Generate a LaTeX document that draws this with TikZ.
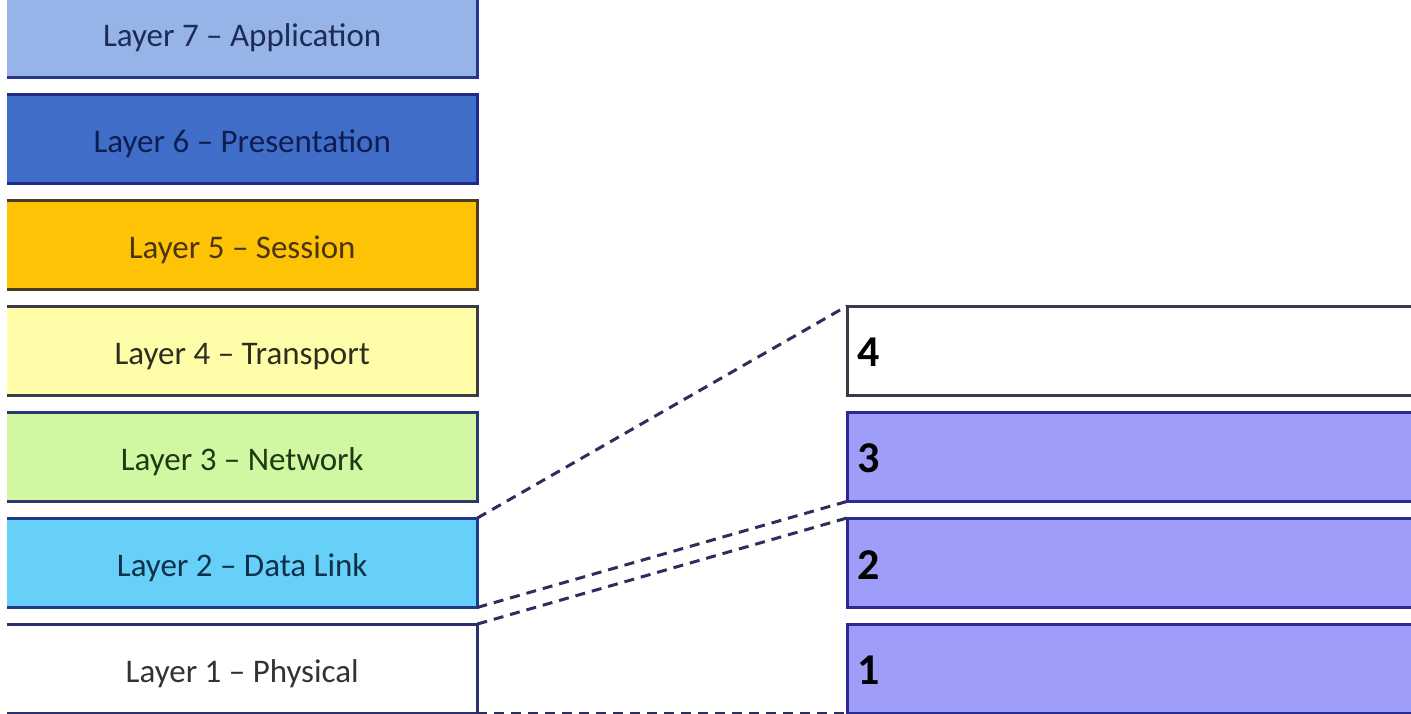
\documentclass[tikz,border=0pt]{standalone}
\usepackage{fontspec}
\setmainfont{Carlito}
\definecolor{lsevF}{HTML}{96B4E8}\definecolor{lsevB}{HTML}{2A3590}\definecolor{lsevT}{HTML}{1E2B55}
\definecolor{lsixF}{HTML}{3F6DC8}\definecolor{lsixB}{HTML}{1F2A8A}\definecolor{lsixT}{HTML}{0F1E50}
\definecolor{lfivF}{HTML}{FFC305}\definecolor{lfivB}{HTML}{4B3C25}\definecolor{lfivT}{HTML}{4A3510}
\definecolor{lfouF}{HTML}{FFFDA8}\definecolor{lfouB}{HTML}{3C3C48}\definecolor{lfouT}{HTML}{2E2E20}
\definecolor{lthrF}{HTML}{D2F7A2}\definecolor{lthrB}{HTML}{2A3A70}\definecolor{lthrT}{HTML}{1E3A12}
\definecolor{ltwoF}{HTML}{66D0F8}\definecolor{ltwoB}{HTML}{1E3A8A}\definecolor{ltwoT}{HTML}{0E3048}
\definecolor{loneF}{HTML}{FFFFFF}\definecolor{loneB}{HTML}{2A3070}\definecolor{loneT}{HTML}{333333}
\definecolor{rF}{HTML}{9E9EF8}\definecolor{rB}{HTML}{2A2A90}\definecolor{rfourB}{HTML}{3A3A4A}
\definecolor{connC}{HTML}{2E2E5E}
\begin{document}
\begin{tikzpicture}[x=1pt,y=-1pt,
  layerbox/.style={minimum width=470pt,minimum height=89pt,inner sep=0pt,anchor=north west,
    text height=27pt,text depth=0pt,font=\fontsize{33}{38}\selectfont},
  numbox/.style={minimum width=620pt,minimum height=89pt,inner sep=0pt,anchor=north west},
  numtext/.style={anchor=west,inner sep=0pt,font=\fontsize{44}{50}\selectfont\bfseries},
  bd/.style={draw=#1,line width=3pt},
  conn/.style={draw=connC,line width=3pt,dash pattern=on 10pt off 7pt}]
\useasboundingbox (0,0) rectangle (1411,713);
\fill[white] (0,0) rectangle (1411,713);
\clip (0,0) rectangle (1411,713);
% left stack
\node[layerbox,fill=lsevF,text=lsevT] (L7) at (7,-12) {Layer 7 \textendash{} Application};
\node[layerbox,fill=lsixF,text=lsixT] (L6) at (7,94) {Layer 6 \textendash{} Presentation};
\node[layerbox,fill=lfivF,text=lfivT] (L5) at (7,200) {Layer 5 \textendash{} Session};
\node[layerbox,fill=lfouF,text=lfouT] (L4) at (7,306) {Layer 4 \textendash{} Transport};
\node[layerbox,fill=lthrF,text=lthrT] (L3) at (7,412) {Layer 3 \textendash{} Network};
\node[layerbox,fill=ltwoF,text=ltwoT] (L2) at (7,518) {Layer 2 \textendash{} Data Link};
\node[layerbox,fill=loneF,text=loneT] (L1) at (7,624) {Layer 1 \textendash{} Physical};
\draw[bd=lsevB] (L7.north west) -- (L7.north east) -- (L7.south east) -- (L7.south west);
\draw[bd=lsixB] (L6.north west) -- (L6.north east) -- (L6.south east) -- (L6.south west);
\draw[bd=lfivB] (L5.north west) -- (L5.north east) -- (L5.south east) -- (L5.south west);
\draw[bd=lfouB] (L4.north west) -- (L4.north east) -- (L4.south east) -- (L4.south west);
\draw[bd=lthrB] (L3.north west) -- (L3.north east) -- (L3.south east) -- (L3.south west);
\draw[bd=ltwoB] (L2.north west) -- (L2.north east) -- (L2.south east) -- (L2.south west);
\draw[bd=loneB] (L1.north west) -- (L1.north east) -- (L1.south east) -- (L1.south west);
% right stack
\node[numbox,fill=white] (R4) at (847,306) {};
\node[numbox,fill=rF] (R3) at (847,412) {};
\node[numbox,fill=rF] (R2) at (847,518) {};
\node[numbox,fill=rF] (R1) at (847,624) {};
\draw[bd=rfourB] (R4.north east) -- (R4.north west) -- (R4.south west) -- (R4.south east);
\draw[bd=rB] (R3.north east) -- (R3.north west) -- (R3.south west) -- (R3.south east);
\draw[bd=rB] (R2.north east) -- (R2.north west) -- (R2.south west) -- (R2.south east);
\draw[bd=rB] (R1.north east) -- (R1.north west) -- (R1.south west) -- (R1.south east);
\node[numtext] (N4) at ([xshift=10pt,yshift=-2pt]R4.west) {4};
\node[numtext] (N3) at ([xshift=10pt,yshift=-2pt]R3.west) {3};
\node[numtext] (N2) at ([xshift=10pt,yshift=-2pt]R2.west) {2};
\node[numtext] (N1) at ([xshift=10pt,yshift=-2pt]R1.west) {1};
% connectors
\draw[conn] (L2.north east) -- (R4.north west);
\draw[conn] (L2.south east) -- (R3.south west);
\draw[conn] (L1.north east) -- (R2.north west);
\draw[conn] (L1.south east) -- (R1.south west);
\end{tikzpicture}
\end{document}
